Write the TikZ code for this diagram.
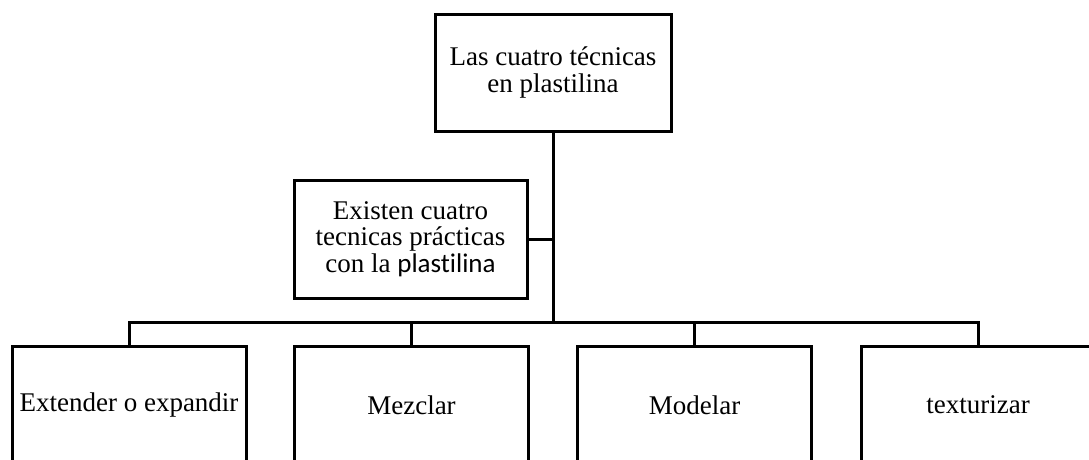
\documentclass[tikz,border=0pt]{standalone}
\usepackage{fontspec}
\setmainfont{Liberation Serif}
\newfontfamily\calfont{Carlito}
\begin{document}
\begin{tikzpicture}[x=1pt,y=-1pt,
  box/.style={draw, line width=3pt, outer sep=0pt, inner sep=0pt, align=center,
    minimum width=234pt, minimum height=118pt, font=\fontsize{27}{26.5}\selectfont},
  conn/.style={line width=3pt}]
\useasboundingbox (0,0) rectangle (1089,459);
\node[box, minimum width=236pt, minimum height=117pt] (top) at (553,72.5) {Las cuatro técnicas\\en plastilina};
\node[box, minimum width=233pt] (side) at (410.5,239) {Existen cuatro\\tecnicas prácticas\\con la {\calfont plast\kern0pt ilina}};
\node[box] (b1) at (129,405) {Extender o expandir};
\node[box] (b2) at (411.5,405) {Mezclar};
\node[box] (b3) at (694.5,405) {Modelar};
\node[box] (b4) at (978,405) {texturizar};
\coordinate (bus) at (553,322);
\draw[conn] (top.south) -- (bus);
\draw[conn] (side.east) -- (side.east -| bus);
\draw[conn] (b1.north) |- (bus) -| (b4.north);
\draw[conn] (b2.north) -- (b2.north |- bus);
\draw[conn] (b3.north) -- (b3.north |- bus);
\end{tikzpicture}
\end{document}
